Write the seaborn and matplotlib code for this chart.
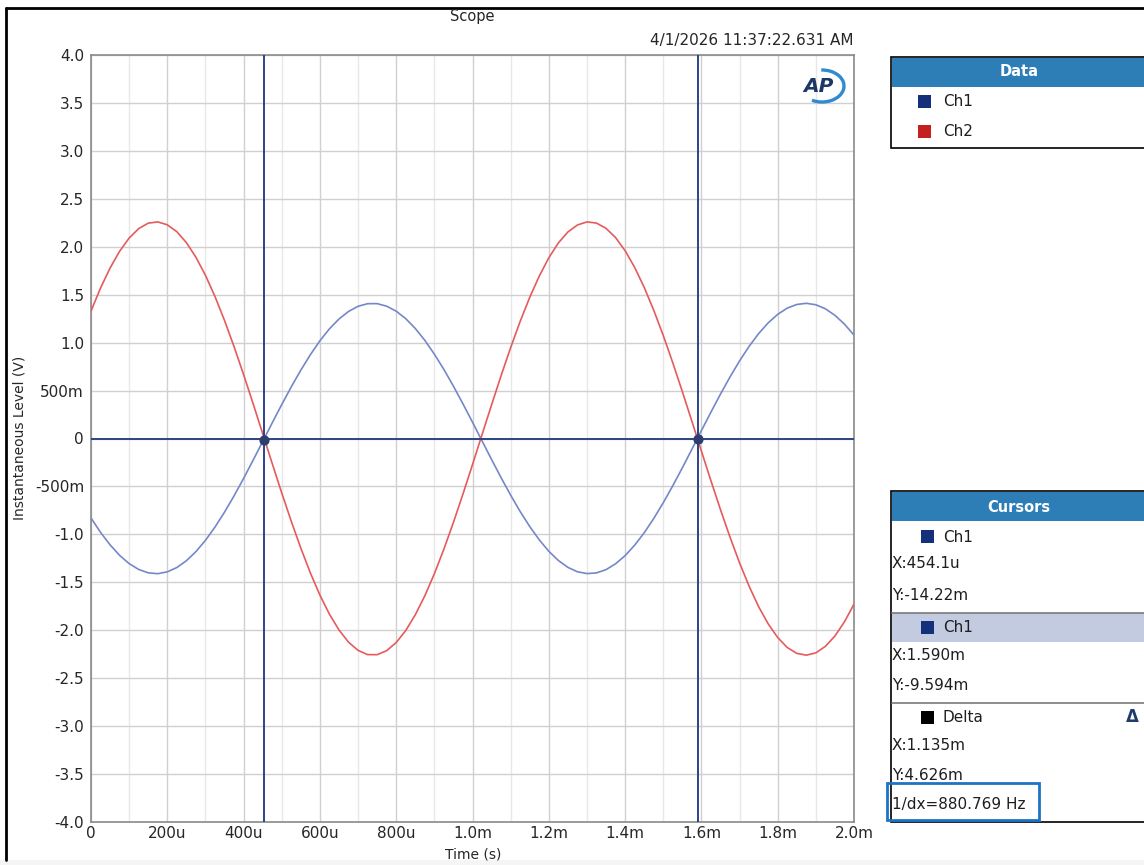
import numpy as np
import pandas as pd
import matplotlib
matplotlib.use("Agg")
import matplotlib.pyplot as plt
import seaborn as sns
from matplotlib.patches import Rectangle, Arc
from matplotlib.lines import Line2D

# ---------------- data ----------------
time_us = [0, 25, 50, 75, 100, 125, 150, 175, 200, 225,
           250, 275, 300, 325, 350, 375, 400, 425, 450, 475,
           500, 525, 550, 575, 600, 625, 650, 675, 700, 725,
           750, 775, 800, 825, 850, 875, 900, 925, 950, 975,
           1000, 1025, 1050, 1075, 1100, 1125, 1150, 1175, 1200, 1225,
           1250, 1275, 1300, 1325, 1350, 1375, 1400, 1425, 1450, 1475,
           1500, 1525, 1550, 1575, 1600, 1625, 1650, 1675, 1700, 1725,
           1750, 1775, 1800, 1825, 1850, 1875, 1900, 1925, 1950, 1975, 2000]
ch1_v = [-0.829, -0.979, -1.109, -1.219, -1.305, -1.366, -1.401, -1.410, -1.391, -1.346,
         -1.275, -1.180, -1.062, -0.924, -0.768, -0.598, -0.416, -0.226, -0.032, 0.163,
         0.354, 0.539, 0.713, 0.874, 1.019, 1.144, 1.246, 1.325, 1.379, 1.406,
         1.407, 1.380, 1.328, 1.250, 1.148, 1.024, 0.880, 0.720, 0.546, 0.361,
         0.170, -0.025, -0.219, -0.409, -0.591, -0.762, -0.918, -1.057, -1.176, -1.272,
         -1.344, -1.390, -1.409, -1.402, -1.368, -1.307, -1.222, -1.113, -0.984, -0.835,
         -0.670, -0.493, -0.306, -0.113, 0.082, 0.275, 0.463, 0.642, 0.809, 0.961,
         1.094, 1.206, 1.295, 1.360, 1.398, 1.410, 1.395, 1.353, 1.285, 1.193, 1.078]
ch2_v = [1.329, 1.569, 1.778, 1.953, 2.091, 2.189, 2.246, 2.259, 2.229, 2.157,
         2.043, 1.891, 1.702, 1.481, 1.231, 0.958, 0.666, 0.363, 0.051, -0.261,
         -0.568, -0.864, -1.144, -1.402, -1.633, -1.833, -1.997, -2.124, -2.210, -2.254,
         -2.255, -2.213, -2.128, -2.003, -1.839, -1.641, -1.411, -1.154, -0.875, -0.579,
         -0.272, 0.040, 0.351, 0.656, 0.948, 1.222, 1.472, 1.694, 1.885, 2.039,
         2.154, 2.227, 2.259, 2.247, 2.192, 2.096, 1.959, 1.785, 1.577, 1.338,
         1.075, 0.790, 0.490, 0.181, -0.131, -0.441, -0.742, -1.029, -1.297, -1.540,
         -1.754, -1.933, -2.076, -2.180, -2.241, -2.260, -2.236, -2.168, -2.060, -1.912, -1.728]

cursor_x = [454.1e-6, 1.590e-3]
cursor_y = [-14.22e-3, -9.594e-3]

x_ticks = [0, 0.2e-3, 0.4e-3, 0.6e-3, 0.8e-3, 1.0e-3, 1.2e-3, 1.4e-3, 1.6e-3, 1.8e-3, 2.0e-3]
x_tick_labels = ["0", "200u", "400u", "600u", "800u", "1.0m", "1.2m", "1.4m", "1.6m", "1.8m", "2.0m"]
y_ticks = [-4.0, -3.5, -3.0, -2.5, -2.0, -1.5, -1.0, -0.5, 0, 0.5, 1.0, 1.5, 2.0, 2.5, 3.0, 3.5, 4.0]
y_tick_labels = ["-4.0", "-3.5", "-3.0", "-2.5", "-2.0", "-1.5", "-1.0", "-500m", "0", "500m",
                 "1.0", "1.5", "2.0", "2.5", "3.0", "3.5", "4.0"]
x_minor = [0.1e-3, 0.3e-3, 0.5e-3, 0.7e-3, 0.9e-3, 1.1e-3, 1.3e-3, 1.5e-3, 1.7e-3, 1.9e-3]

channel_colors = {"Ch1": "#7488c8", "Ch2": "#e65a5c"}

df = pd.concat([
    pd.DataFrame({"t": np.array(time_us) * 1e-6, "v": ch1_v, "ch": "Ch1"}),
    pd.DataFrame({"t": np.array(time_us) * 1e-6, "v": ch2_v, "ch": "Ch2"}),
])

# ---------------- style ----------------
sns.set_theme(style="white")
plt.rcParams["font.family"] = ["DejaVu Sans"]

W, H = 1144, 865
fig = plt.figure(figsize=(W / 100, H / 100), dpi=100)
fig.patch.set_facecolor("white")

def fx(x):
    return x / W

def fy(y):
    return 1 - y / H

ax = fig.add_axes([fx(91), fy(822), fx(854) - fx(91), fy(55) - fy(822)])
ax.set_facecolor("white")

# grid
for xm in x_minor:
    ax.axvline(xm, color="#e8e8e8", lw=1.0, zorder=0)
for xt in x_ticks:
    ax.axvline(xt, color="#d0d0d0", lw=1.0, zorder=0)
for yt in y_ticks:
    ax.axhline(yt, color="#d0d0d0", lw=1.0, zorder=0)

sns.lineplot(data=df, x="t", y="v", hue="ch", palette=channel_colors,
             sort=False, estimator=None, legend=False, lw=1.2, ax=ax, zorder=3)

navy = "#2c4489"
for cx in cursor_x:
    ax.axvline(cx, color=navy, lw=1.4, zorder=4)
ax.axhline(0, color=navy, lw=1.4, zorder=4)
ax.scatter(cursor_x, cursor_y, s=40, color="#2c3d6e", zorder=5, edgecolor="#2c3d6e")

ax.set_xlim(0, 2.0e-3)
ax.set_ylim(-4.0, 4.0)
ax.set_xticks(x_ticks, labels=x_tick_labels)
ax.set_yticks(y_ticks, labels=y_tick_labels)
ax.tick_params(axis="both", length=0, labelsize=11, labelcolor="#262626")
ax.tick_params(axis="x", pad=3)
ax.tick_params(axis="y", pad=5)
for s in ax.spines.values():
    s.set_color("#8a8a8a")
    s.set_linewidth(1.2)
ax.set_xlabel("")
ax.set_ylabel("")

# axis labels / titles
fig.text(fx(473), fy(855), "Time (s)", ha="center", va="center", fontsize=10, color="#262626")
fig.text(fx(20), fy(438), "Instantaneous Level (V)", ha="center", va="center",
         rotation=90, fontsize=10, color="#262626")
fig.text(fx(472), fy(17), "Scope", ha="center", va="center", fontsize=10.5, color="#262626")
fig.text(fx(853), fy(40), "4/1/2026 11:37:22.631 AM", ha="right", va="center",
         fontsize=11, color="#262626")

# AP logo
fig.text(fx(818), fy(87), "AP", ha="center", va="center", fontsize=14.5,
         fontweight="bold", fontstyle="italic", color="#1d3766")
fig.add_artist(Arc((fx(822), fy(86)), 44 / W, 32 / H, theta1=-118, theta2=92,
                   color="#2f8ad2", lw=2.4, transform=fig.transFigure))

# outer window frame
fig.add_artist(Rectangle((0, 0), 1, fy(860), color="#f5f5f5", transform=fig.transFigure, zorder=0))
fig.add_artist(Line2D([fx(6), fx(1144)], [fy(8), fy(8)], color="black", lw=2,
                      transform=fig.transFigure))
fig.add_artist(Line2D([fx(6), fx(6)], [fy(8), fy(860)], color="black", lw=2,
                      transform=fig.transFigure))

header_blue = "#2d7db7"

def rect(x0, y0, x1, y1, **kw):
    r = Rectangle((fx(x0), fy(y1)), fx(x1) - fx(x0), fy(y0) - fy(y1),
                  transform=fig.transFigure, **kw)
    fig.add_artist(r)
    return r

def hline(x0, x1, y, color, lw=1):
    fig.add_artist(Line2D([fx(x0), fx(x1)], [fy(y), fy(y)], color=color, lw=lw,
                          transform=fig.transFigure))

def txt(x, y, s, **kw):
    kw.setdefault("fontsize", 11)
    kw.setdefault("color", "#1e1e1e")
    kw.setdefault("va", "center")
    fig.text(fx(x), fy(y), s, **kw)

# ---- Data panel ----
rect(891, 57, 1146, 148, facecolor="white", edgecolor="black", lw=1.2)
rect(892, 58, 1146, 87, facecolor=header_blue, edgecolor="none")
txt(1019, 72, "Data", ha="center", color="white", fontweight="bold", fontsize=10.5)
rect(918, 95, 931, 108, facecolor="#14307a", edgecolor="none")
txt(943, 102, "Ch1")
rect(918, 125, 931, 138, facecolor="#c42020", edgecolor="none")
txt(943, 132, "Ch2")

# ---- Cursors panel ----
rect(891, 491, 1146, 822, facecolor="white", edgecolor="black", lw=1.2)
rect(892, 492, 1146, 521, facecolor=header_blue, edgecolor="none")
txt(1019, 507, "Cursors", ha="center", color="white", fontweight="bold", fontsize=10.5)
rect(921, 530, 934, 543, facecolor="#14307a", edgecolor="none")
txt(943, 537, "Ch1")
txt(892, 564, "X:454.1u")
txt(892, 595, "Y:-14.22m")
rect(892, 613, 1146, 642, facecolor="#c2cbdf", edgecolor="none")
hline(892, 1146, 612.5, "#7a7a7a", lw=1.2)
rect(921, 621, 934, 634, facecolor="#14307a", edgecolor="none")
txt(943, 627, "Ch1")
txt(892, 655, "X:1.590m")
txt(892, 685, "Y:-9.594m")
hline(892, 1146, 702.5, "#7a7a7a", lw=1.2)
rect(921, 711, 934, 724, facecolor="black", edgecolor="none")
txt(943, 718, "Delta")
txt(1132, 717, "Δ", ha="center", fontweight="bold", fontsize=12, color="#1f3c6c")
txt(892, 745, "X:1.135m")
txt(892, 775, "Y:4.626m")
txt(892, 805, "1/dx=880.769 Hz")
rect(887, 783, 1039, 820, facecolor="none", edgecolor="#1b74c5", lw=2)

fig.savefig("out.png", dpi=100)
